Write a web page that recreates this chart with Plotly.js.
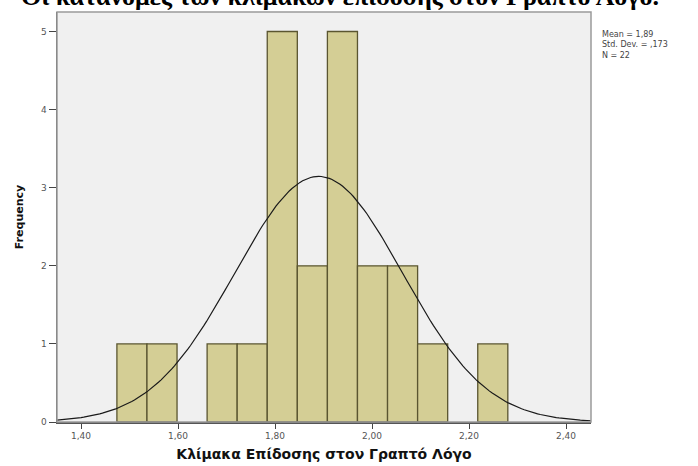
<!DOCTYPE html>
<html>
<head>
<meta charset="utf-8">
<script src="https://cdn.plot.ly/plotly-3.0.1.min.js"></script>
<style>html,body{margin:0;padding:0;background:#fff;}#chart{width:698px;height:466px;}</style>
</head>
<body>
<div id="chart"></div>
<script>
// Histogram bins (centres) and frequencies
const binCenters = [1.505, 1.567, 1.629, 1.691, 1.753, 1.815, 1.877, 1.939, 2.001, 2.063, 2.125, 2.187, 2.249];
const counts     = [1, 1, 0, 1, 1, 5, 2, 5, 2, 2, 1, 0, 1];
const binWidth = 0.062;

// Statistics shown in the chart's legend box
const statMean = 1.89;
const statSD = 0.173;
const statN = 22;

// Tick labels
const xTickVals = [1.4, 1.6, 1.8, 2.0, 2.2, 2.4];
const xTickText = ['1,40', '1,60', '1,80', '2,00', '2,20', '2,40'];
const yTickVals = [0, 1, 2, 3, 4, 5];

const xRange = [1.3505, 2.4515];
const yRange = [0, 5.25];

// Fitted normal curve (defined by the legend's mean, SD and N)
const curveX = [], curveY = [];
const nPts = 200;
for (let i = 0; i <= nPts; i++) {
  const x = xRange[0] + (xRange[1] - xRange[0]) * i / nPts;
  const z = (x - statMean) / statSD;
  curveX.push(x);
  curveY.push(statN * binWidth / (statSD * Math.sqrt(2 * Math.PI)) * Math.exp(-0.5 * z * z));
}

const bars = {
  type: 'bar',
  x: binCenters,
  y: counts.map(c => c === 0 ? null : c),
  width: binWidth,
  marker: {color: '#d4ce95', line: {color: '#5a5530', width: 1.3}},
  hoverinfo: 'x+y'
};
const curve = {
  type: 'scatter', mode: 'lines',
  x: curveX, y: curveY,
  line: {color: '#1a1a1a', width: 1.2},
  hoverinfo: 'skip'
};

const layout = {
  width: 698, height: 466,
  margin: {l: 57, r: 107, t: 12, b: 44},
  paper_bgcolor: '#ffffff',
  plot_bgcolor: '#f0f0f0',
  showlegend: false,
  bargap: 0,
  font: {family: 'Liberation Sans, Arial, sans-serif', color: '#333'},
  xaxis: {
    range: xRange, showgrid: false, zeroline: false,
    tickmode: 'array', tickvals: xTickVals, ticktext: xTickText,
    ticks: 'outside', ticklen: 5, tickwidth: 1, tickcolor: '#444',
    showline: true, linecolor: '#555', linewidth: 1.5,
    tickfont: {size: 9, color: '#555', family: 'DejaVu Sans, sans-serif'},
    title: {text: 'Κλίμακα Επίδοσης στον Γραπτό Λόγο', standoff: 9,
            font: {size: 14, color: '#111', family: 'DejaVu Sans, sans-serif', weight: 'bold'}}
  },
  yaxis: {
    range: yRange, showgrid: false, zeroline: false,
    tickmode: 'array', tickvals: yTickVals,
    ticks: 'outside', ticklen: 7, tickwidth: 1, tickcolor: '#444',
    showline: true, linecolor: '#555', linewidth: 1.5,
    tickfont: {size: 9, color: '#555', family: 'DejaVu Sans, sans-serif'},
    title: {text: 'Frequency', standoff: 15,
            font: {size: 11, color: '#111', family: 'DejaVu Sans, sans-serif', weight: 'bold'}}
  },
  shapes: [
    {type: 'rect', xref: 'paper', yref: 'paper', x0: 0, x1: 1, y0: 0, y1: 1,
     line: {color: '#9a9a9a', width: 1.5}, fillcolor: 'rgba(0,0,0,0)', layer: 'above'}
  ],
  annotations: [
    {text: 'Οι κατανομές των κλιμάκων επίδοσης στον Γραπτό Λόγο.',
     xref: 'paper', yref: 'paper', x: 0.53, y: 0.998, xanchor: 'center', yanchor: 'bottom',
     showarrow: false,
     font: {family: 'Liberation Serif, Times New Roman, serif', size: 26, color: '#000', weight: 'bold'}},
    {text: 'Mean = 1,89<br>Std. Dev. = ,173<br>N = 22',
     xref: 'paper', yref: 'paper', x: 1.017, y: 0.96, xanchor: 'left', yanchor: 'top',
     align: 'left', showarrow: false,
     font: {family: 'DejaVu Sans, sans-serif', size: 8, color: '#444'}}
  ]
};

Plotly.newPlot('chart', [bars, curve], layout, {displayModeBar: false, staticPlot: true});
</script>
</body>
</html>
